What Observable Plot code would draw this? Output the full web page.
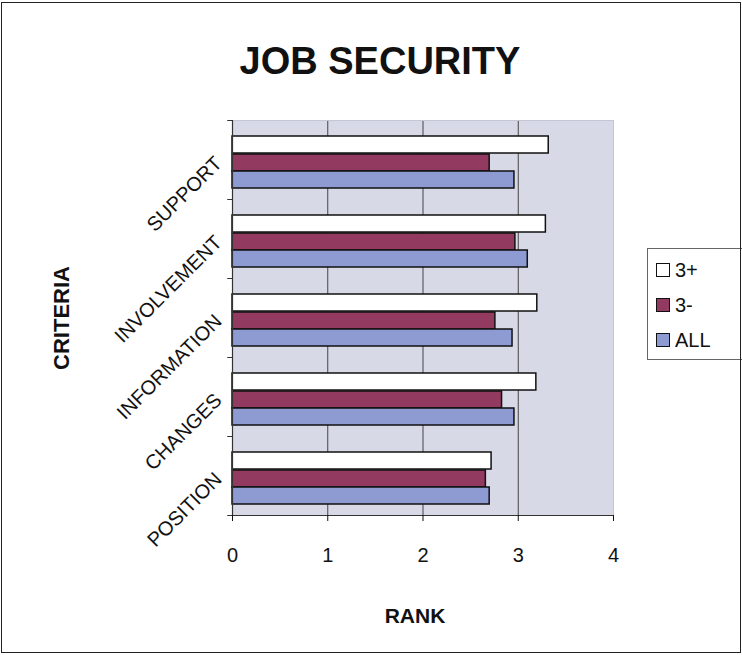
<!DOCTYPE html>
<html><head><meta charset="utf-8">
<script src="https://cdn.jsdelivr.net/npm/d3@7"></script>
<script src="https://cdn.jsdelivr.net/npm/@observablehq/plot@0.6"></script>
<style>
body{margin:0;background:#fff;font-family:"Liberation Sans",Arial,sans-serif;color:#111;}
#wrap{position:relative;width:742px;height:655px;overflow:hidden;}
#chart{position:absolute;left:0;top:0;}
.lbl{position:absolute;font-weight:bold;white-space:nowrap;line-height:1;transform:translate(-50%,-50%);}
#frame{position:absolute;left:1px;top:2px;width:740px;height:651px;border:1.5px solid #222;box-sizing:border-box;pointer-events:none;}
#legend{position:absolute;left:647px;top:248px;width:110px;height:112px;border:1px solid #666;background:#fff;box-sizing:border-box;}
.item{position:absolute;left:8px;font-size:20px;line-height:1;display:flex;align-items:center;}
.sw{width:12px;height:12px;border:1.5px solid #111;margin-right:5px;}
</style>
</head><body>
<div id="wrap">
  <div id="chart"></div>
  <div class="lbl" style="left:380px;top:61px;font-size:38px;">JOB SECURITY</div>
  <div class="lbl" style="left:62px;top:318px;font-size:22px;transform:translate(-50%,-50%) rotate(-90deg);">CRITERIA</div>
  <div class="lbl" style="left:415px;top:615px;font-size:21px;">RANK</div>
  <div id="legend"></div>
  <div id="frame"></div>
</div>
<script>
const criteria = ["SUPPORT","INVOLVEMENT","INFORMATION","CHANGES","POSITION"];
const seriesNames = ["3+","3-","ALL"];
const v3plus  = [3.32, 3.29, 3.20, 3.19, 2.72];
const v3minus = [2.70, 2.97, 2.76, 2.83, 2.66];
const vAll    = [2.96, 3.10, 2.94, 2.96, 2.70];
const xTicks  = [0, 1, 2, 3, 4];
const colors  = ["#ffffff", "#933a60", "#8d9bd2"];

const seriesValues = [v3plus, v3minus, vAll];
const rows = [];
seriesNames.forEach((s, si) => criteria.forEach((c, ci) => rows.push({criteria: c, series: s, value: seriesValues[si][ci]})));

const offsets = {"3+": -15, "3-": 3, "ALL": 20};

const barMarks = seriesNames.map((s, si) => Plot.barX(rows.filter(r => r.series === s), {
  x: "value", y: "criteria", fill: colors[si], stroke: "#111", strokeWidth: 1.5,
  insetTop: 31, insetBottom: 31, dy: offsets[s]
}));

const chart = Plot.plot({
  width: 742, height: 655,
  marginLeft: 232, marginRight: 129, marginTop: 120, marginBottom: 140,
  style: {fontFamily: "'Liberation Sans', Arial, sans-serif", color: "#111", background: "transparent"},
  x: {domain: [0, 4], ticks: xTicks},
  y: {domain: criteria, padding: 0},
  marks: [
    Plot.frame({fill: "#d8d9e7", stroke: null}),
    Plot.ruleX(xTicks.filter(t => t > 0 && t < 4), {stroke: "#444", strokeWidth: 1}),
    Plot.ruleX([4], {stroke: "#c4c6d6", strokeWidth: 1}),
    Plot.ruleY(criteria.slice(0,1), {y: d => d, dy: -39.5, x1: 0, x2: 4, stroke: "#c4c6d6"}),
    ...barMarks,
    Plot.ruleX([0], {stroke: "#333", strokeWidth: 1.2}),
    Plot.ruleY(criteria.slice(-1), {y: d => d, dy: 39.5, x1: 0, x2: 4, stroke: "#333", strokeWidth: 1.2}),
    Plot.ruleY(criteria, {y: d => d, dy: -39.5, x1: -0.05, x2: 0, stroke: "#333"}),
    Plot.ruleY(criteria.slice(-1), {y: d => d, dy: 39.5, x1: -0.05, x2: 0, stroke: "#333"}),
    Plot.axisX({ticks: xTicks, tickFormat: d3.format("d"), tickSize: 6, tickPadding: 26, fontSize: 20, label: null}),
    Plot.axisY({tickSize: 0, tickRotate: -45, tickPadding: 14, fontSize: 20, label: null})
  ]
});
document.getElementById("chart").appendChild(chart);

const legend = document.getElementById("legend");
seriesNames.forEach((s, i) => {
  const item = document.createElement("div");
  item.className = "item";
  item.style.top = (11 + i * 35) + "px";
  const sw = document.createElement("div");
  sw.className = "sw";
  sw.style.background = colors[i];
  const t = document.createElement("span");
  t.textContent = s;
  item.appendChild(sw); item.appendChild(t);
  legend.appendChild(item);
});
</script>
</body></html>
